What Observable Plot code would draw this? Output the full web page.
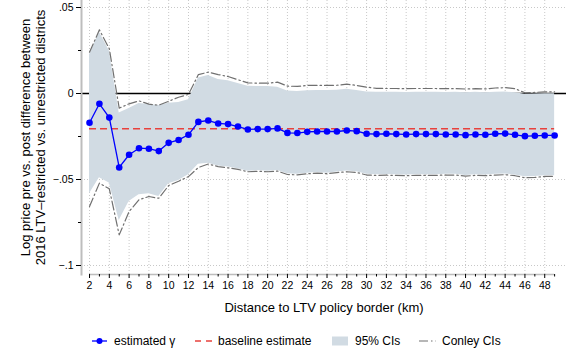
<!DOCTYPE html>
<html>
<head>
<meta charset="utf-8">
<script src="https://cdn.jsdelivr.net/npm/d3@7"></script>
<script src="https://cdn.jsdelivr.net/npm/@observablehq/plot@0.6"></script>
<style>
  html, body { margin: 0; padding: 0; background: white; }
  #chart { position: relative; width: 566px; height: 356px; font-family: "Liberation Sans", Arial, Helvetica, sans-serif; }
  #legend { position: relative; width: 566px; height: 36px; font-size: 12px; color: black; }
  #legend svg { position: absolute; top: 0; }
  #legend span { position: absolute; top: 14px; white-space: nowrap; line-height: 14px; }
</style>
</head>
<body>
<div id="chart"></div>
<script>
// Distance bins (km) from the LTV policy border
const km = [2, 3, 4, 5, 6, 7, 8, 9, 10, 11, 12, 13, 14, 15, 16, 17, 18, 19, 20, 21, 22, 23, 24, 25,
            26, 27, 28, 29, 30, 31, 32, 33, 34, 35, 36, 37, 38, 39, 40, 41, 42, 43, 44, 45, 46, 47, 48, 49];

// Estimated gamma for each bandwidth
const gamma = [-0.0170, -0.0060, -0.0140, -0.0430, -0.0356, -0.0318, -0.0321, -0.0335, -0.0287, -0.0270,
               -0.0240, -0.0165, -0.0157, -0.0174, -0.0178, -0.0192, -0.0209, -0.0207, -0.0207, -0.0203,
               -0.0229, -0.0230, -0.0223, -0.0221, -0.0221, -0.0221, -0.0215, -0.0219, -0.0234, -0.0236,
               -0.0234, -0.0236, -0.0238, -0.0236, -0.0236, -0.0236, -0.0238, -0.0238, -0.0242, -0.0238,
               -0.0240, -0.0234, -0.0233, -0.0240, -0.0248, -0.0246, -0.0244, -0.0244];

// 95% confidence interval
const ci95Lower = [-0.0583, -0.0490, -0.0521, -0.0738, -0.0628, -0.0589, -0.0583, -0.0599, -0.0525, -0.0506,
                   -0.0473, -0.0411, -0.0405, -0.0422, -0.0428, -0.0438, -0.0452, -0.0448, -0.0452, -0.0448,
                   -0.0467, -0.0470, -0.0463, -0.0459, -0.0463, -0.0457, -0.0451, -0.0455, -0.0470, -0.0472,
                   -0.0471, -0.0472, -0.0474, -0.0472, -0.0472, -0.0472, -0.0470, -0.0470, -0.0476, -0.0472,
                   -0.0474, -0.0470, -0.0468, -0.0474, -0.0484, -0.0482, -0.0478, -0.0478];
const ci95Upper = [0.0225, 0.0356, 0.0248, -0.0114, -0.0087, -0.0058, -0.0064, -0.0070, -0.0056, -0.0053,
                   -0.0037, 0.0090, 0.0105, 0.0082, 0.0074, 0.0058, 0.0042, 0.0041, 0.0040, 0.0037,
                   0.0014, 0.0012, 0.0016, 0.0017, 0.0017, 0.0019, 0.0024, 0.0017, 0.0009, 0.0007,
                   0.0008, 0.0007, 0.0006, 0.0007, 0.0007, 0.0007, 0.0006, 0.0007, 0.0004, 0.0007,
                   0.0005, 0.0008, 0.0009, 0.0004, -0.0004, -0.0003, -0.0002, -0.0002];

// Conley (spatial HAC) confidence interval
const conleyLower = [-0.0657, -0.0521, -0.0554, -0.0822, -0.0686, -0.0618, -0.0599, -0.0609, -0.0535, -0.0510,
                     -0.0483, -0.0430, -0.0410, -0.0425, -0.0432, -0.0441, -0.0455, -0.0452, -0.0455, -0.0451,
                     -0.0471, -0.0473, -0.0467, -0.0463, -0.0466, -0.0460, -0.0455, -0.0459, -0.0474, -0.0476,
                     -0.0475, -0.0476, -0.0478, -0.0476, -0.0476, -0.0476, -0.0474, -0.0474, -0.0480, -0.0476,
                     -0.0478, -0.0474, -0.0472, -0.0478, -0.0490, -0.0488, -0.0482, -0.0482];
const conleyUpper = [0.0240, 0.0370, 0.0260, -0.0085, -0.0060, -0.0043, -0.0062, -0.0068, -0.0045, -0.0022,
                     -0.0005, 0.0110, 0.0124, 0.0110, 0.0099, 0.0080, 0.0062, 0.0060, 0.0060, 0.0066,
                     0.0043, 0.0041, 0.0047, 0.0047, 0.0047, 0.0048, 0.0054, 0.0047, 0.0037, 0.0030,
                     0.0029, 0.0029, 0.0028, 0.0029, 0.0029, 0.0029, 0.0028, 0.0028, 0.0026, 0.0028,
                     0.0027, 0.0032, 0.0034, 0.0028, 0.0004, 0.0006, 0.0010, 0.0010];

// Baseline estimate
const baseline = -0.0205;

// Axis ticks and labels
const xTicks = [2, 4, 6, 8, 10, 12, 14, 16, 18, 20, 22, 24, 26, 28, 30, 32, 34, 36, 38, 40, 42, 44, 46, 48];
const yTicks = [-0.1, -0.05, 0, 0.05];
const yMinorTicks = [-0.075, -0.025, 0.025];
const xTitle = "Distance to LTV policy border (km)";
const yTitle = "Log price pre vs. post difference between\n2016 LTV\u2013restricted vs. unrestricted districts";

const rows = km.map((k, i) => ({
  km: k, gamma: gamma[i],
  lo: ci95Lower[i], hi: ci95Upper[i],
  cLo: conleyLower[i], cHi: conleyUpper[i]
}));

const xMinor = km.filter(k => k % 2 === 1);
const yDomain = [-0.10523, 0.05407];
const fmtY = d => d === 0 ? "0" : (d < 0 ? "\u2212" : "") + String(Math.abs(d)).replace(/^0/, "");

const blue = "#0000ff", red = "#e8413c", shade = "#d1dbe3", grey = "#707070", axisGrey = "#bdbdbd";
const gridStyle = {stroke: "#c8c8c8", strokeOpacity: 1, strokeDasharray: "1,2"};

const plot = Plot.plot({
  width: 566,
  height: 320,
  marginLeft: 81,
  marginRight: 0,
  marginTop: 0,
  marginBottom: 46,
  style: {fontFamily: "Liberation Sans, Arial, Helvetica, sans-serif", fontSize: "10.5px", background: "white", color: "black", overflow: "visible"},
  x: {domain: [1.19, 50.2]},
  y: {domain: yDomain},
  marks: [
    Plot.gridX({ticks: xTicks, ...gridStyle}),
    Plot.gridY({ticks: [-0.1, -0.05, 0.05], ...gridStyle}),
    Plot.ruleY([0], {stroke: "black", strokeWidth: 1.3}),
    Plot.areaY(rows, {x: "km", y1: "lo", y2: "hi", fill: shade}),
    Plot.lineY(rows, {x: "km", y: "cHi", stroke: grey, strokeWidth: 1.2, strokeDasharray: "9,3,1.5,3"}),
    Plot.lineY(rows, {x: "km", y: "cLo", stroke: grey, strokeWidth: 1.2, strokeDasharray: "9,3,1.5,3"}),
    Plot.ruleY([baseline], {x1: km[0], x2: km[km.length - 1], stroke: red, strokeWidth: 1.5, strokeDasharray: "7,4"}),
    Plot.lineY(rows, {x: "km", y: "gamma", stroke: blue, strokeWidth: 1.3}),
    Plot.dot(rows, {x: "km", y: "gamma", r: 3.3, fill: blue}),
    Plot.frame({anchor: "left", stroke: axisGrey, strokeWidth: 2}),
    Plot.ruleY([yDomain[0]], {x1: km[0], x2: km[km.length - 1], stroke: axisGrey, strokeWidth: 1.5}),
    Plot.axisY({ticks: yTicks, tickFormat: fmtY, tickSize: 5, tickPadding: 3, label: null}),
    Plot.axisY({ticks: yMinorTicks, tickFormat: () => "", tickSize: 3, label: null}),
    Plot.axisX({ticks: xTicks, tickFormat: d => String(d), tickSize: 4, tickPadding: 3, label: null}),
    Plot.axisX({ticks: xMinor, tickFormat: () => "", tickSize: 2.5, label: null}),
    Plot.text([xTitle], {text: d => d, frameAnchor: "bottom", lineAnchor: "middle", dy: 33, fontSize: 13}),
    Plot.text([yTitle], {text: d => d, frameAnchor: "left", textAnchor: "middle", lineAnchor: "middle",
                         dx: -48.5, rotate: -90, fontSize: 13, lineHeight: 1.15})
  ]
});

const chart = document.getElementById("chart");
chart.appendChild(plot);

// Legend below the plot
const legend = document.createElement("div");
legend.id = "legend";
const ns = "http://www.w3.org/2000/svg";
function swatch(left, width, draw) {
  const svg = document.createElementNS(ns, "svg");
  svg.setAttribute("width", width);
  svg.setAttribute("height", 36);
  svg.style.left = left + "px";
  svg.innerHTML = draw;
  legend.appendChild(svg);
}
function label(left, text) {
  const s = document.createElement("span");
  s.style.left = left + "px";
  s.textContent = text;
  legend.appendChild(s);
}
swatch(91, 18, `<line x1="1" x2="16" y1="21" y2="21" stroke="${blue}" stroke-width="1.3"/><circle cx="8.5" cy="21" r="3" fill="${blue}"/>`);
label(114, "estimated \u03b3");
swatch(194, 20, `<line x1="1" x2="18" y1="21" y2="21" stroke="${red}" stroke-width="1.5" stroke-dasharray="6,5"/>`);
label(218, "baseline estimate");
swatch(331, 18, `<rect x="1" y="16.5" width="16" height="9" fill="${shade}"/>`);
label(355, "95% CIs");
swatch(418, 20, `<line x1="1" x2="18" y1="21" y2="21" stroke="${grey}" stroke-width="1.2" stroke-dasharray="9,3,1.5,3"/>`);
label(442, "Conley CIs");
chart.appendChild(legend);
</script>
</body>
</html>
